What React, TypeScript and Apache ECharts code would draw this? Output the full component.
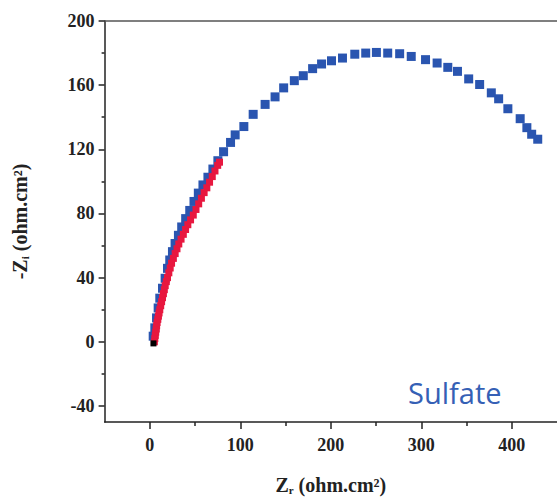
import React, { useEffect, useRef } from "react";
import * as echarts from "echarts";

const blueData: [number, number][] = [
  [3.7, 3.5], [5.5, 8.7], [7.4, 14.9], [9.2, 21.1], [11, 27.2], [14, 33.4], [16.9, 39.6],
  [19.5, 45.8], [22, 51], [25, 56.2], [27.9, 61.3], [31.6, 66.4], [35.2, 71.6], [39.6, 76.8],
  [44.1, 81.9], [48.8, 87.5], [53.6, 92.7], [58.7, 97.8], [64.2, 102.6], [69.7, 107.7],
  [75.2, 112.9], [81.5, 118.5], [89.2, 124.3], [94.3, 129], [103.9, 134.2], [114.2, 141.8],
  [127.4, 148], [138.4, 152.7], [147.9, 158.3], [159.7, 162.8], [169.6, 165.9], [179.9, 170.3],
  [189.8, 173.2], [200.8, 175.2], [212.9, 176.9], [226.5, 179.3], [238.6, 180], [250.4, 180.4],
  [262.9, 180], [276.1, 179.6], [288.9, 177.9], [304.7, 175.9], [317.5, 173.8], [329.3, 171.1],
  [340, 168.6], [352.4, 163.9], [364.5, 160.4], [377.4, 155.2], [385.5, 151.5], [395.7, 145.3],
  [409.3, 139.1], [416.7, 133.5], [422, 129.4], [428.7, 126.3],
];

const redData: [number, number][] = [
  [5, 0], [5.5, 2], [6, 4], [6.5, 6], [7, 8], [7.5, 10], [8, 12], [8.8, 14], [9.5, 16],
  [10.2, 18], [11, 20], [12, 22.5], [13, 25], [14, 27.5], [15, 30], [16, 32.5], [17, 35],
  [18.2, 37.5], [19.5, 40], [21, 43], [22.5, 46], [24, 49], [26, 52], [28, 55], [30, 58],
  [32, 61], [34.5, 64], [37, 67], [39.5, 70], [42, 73], [45, 76], [48, 79], [51, 82.5],
  [54, 86], [57, 89.5], [60, 93], [63, 96], [66, 99.5], [69, 103], [72, 106.5], [75, 110],
  [77, 112],
];

const blackData: [number, number][] = [[4, -1]];

const xMajorTicks = [0, 100, 200, 300, 400];
const xMinorTicks = [50, 150, 250, 350];
const yMajorTicks = [-40, 0, 40, 80, 120, 160, 200];
const yMinorTicks = [-20, 20, 60, 100, 140, 180];

const AXIS_COLOR = "#222";
const LABEL_FONT = "Liberation Serif";

export default function App() {
  const ref = useRef<HTMLDivElement>(null);
  useEffect(() => {
    if (!ref.current) return;
    const chart = echarts.init(ref.current, undefined, { renderer: "svg" });
    const labelStyle = {
      fontFamily: LABEL_FONT,
      fontWeight: "bold" as const,
      fontSize: 18,
      color: AXIS_COLOR,
    };
    chart.setOption({
      animation: false,
      backgroundColor: "#fff",
      grid: { left: 104.6, right: -1.7, top: 21, bottom: 75.5, containLabel: false },
      xAxis: [
        {
          type: "value",
          min: -50,
          max: 450,
          position: "bottom",
          name: "{b|Z}{s|r}{b| (ohm.cm²)}",
          nameLocation: "middle",
          nameGap: 52,
          nameTextStyle: {
            rich: {
              b: { fontFamily: LABEL_FONT, fontWeight: "bold", fontSize: 20, color: AXIS_COLOR },
              s: { fontFamily: LABEL_FONT, fontWeight: "bold", fontSize: 11, color: AXIS_COLOR, padding: [10, 0, 0, 0] },
            },
          },
          axisLine: { show: true, onZero: false, lineStyle: { color: AXIS_COLOR, width: 1.5 } },
          axisTick: { show: true, customValues: xMajorTicks, length: 7, lineStyle: { color: AXIS_COLOR, width: 1.5 } },
          axisLabel: { show: true, customValues: xMajorTicks, margin: 14, ...labelStyle },
          splitLine: { show: false },
        },
        {
          type: "value",
          min: -50,
          max: 450,
          position: "bottom",
          axisLine: { show: false, onZero: false },
          axisTick: { show: true, customValues: xMinorTicks, length: 4, lineStyle: { color: AXIS_COLOR, width: 1.5 } },
          axisLabel: { show: false },
          splitLine: { show: false },
        },
        {
          type: "value",
          min: -50,
          max: 450,
          position: "top",
          axisLine: { show: true, onZero: false, lineStyle: { color: "#555", width: 1.5 } },
          axisTick: { show: false },
          axisLabel: { show: false },
          splitLine: { show: false },
        },
      ],
      yAxis: [
        {
          type: "value",
          min: -50,
          max: 200,
          position: "left",
          name: "{b|-Z}{s|i}{b| (ohm.cm²)}",
          nameLocation: "middle",
          nameGap: 74,
          nameRotate: 90,
          nameTextStyle: {
            rich: {
              b: { fontFamily: LABEL_FONT, fontWeight: "bold", fontSize: 20, color: AXIS_COLOR },
              s: { fontFamily: LABEL_FONT, fontWeight: "bold", fontSize: 11, color: AXIS_COLOR, padding: [10, 0, 0, 0] },
            },
          },
          axisLine: { show: true, onZero: false, lineStyle: { color: AXIS_COLOR, width: 1.5 } },
          axisTick: { show: true, customValues: yMajorTicks, length: 6, lineStyle: { color: AXIS_COLOR, width: 1.5 } },
          axisLabel: { show: true, customValues: yMajorTicks, margin: 10, ...labelStyle },
          splitLine: { show: false },
        },
        {
          type: "value",
          min: -50,
          max: 200,
          position: "left",
          axisLine: { show: false, onZero: false },
          axisTick: { show: true, customValues: yMinorTicks, length: 3, lineStyle: { color: AXIS_COLOR, width: 1.5 } },
          axisLabel: { show: false },
          splitLine: { show: false },
        },
      ],
      series: [
        {
          type: "scatter",
          xAxisIndex: 0,
          yAxisIndex: 0,
          data: blueData,
          symbol: "rect",
          symbolSize: 9,
          itemStyle: { color: "#2a55b0", opacity: 1 },
        },
        {
          type: "scatter",
          xAxisIndex: 0,
          yAxisIndex: 0,
          data: redData,
          symbol: "rect",
          symbolSize: 7,
          itemStyle: { color: "#e8173f", opacity: 1 },
        },
        {
          type: "scatter",
          xAxisIndex: 0,
          yAxisIndex: 0,
          data: blackData,
          symbol: "rect",
          symbolSize: 6,
          itemStyle: { color: "#000", opacity: 1 },
        },
      ],
      graphic: [
        {
          type: "text",
          left: 408,
          top: 378,
          style: {
            text: "Sulfate",
            fontFamily: "Open Sans",
            fontSize: 29,
            fill: "#3560b5",
          },
        },
      ],
    });
    return () => chart.dispose();
  }, []);
  return (
    <div
      ref={ref}
      style={{ position: "fixed", left: 0, top: 0, width: 557, height: 500, background: "#fff" }}
    />
  );
}
